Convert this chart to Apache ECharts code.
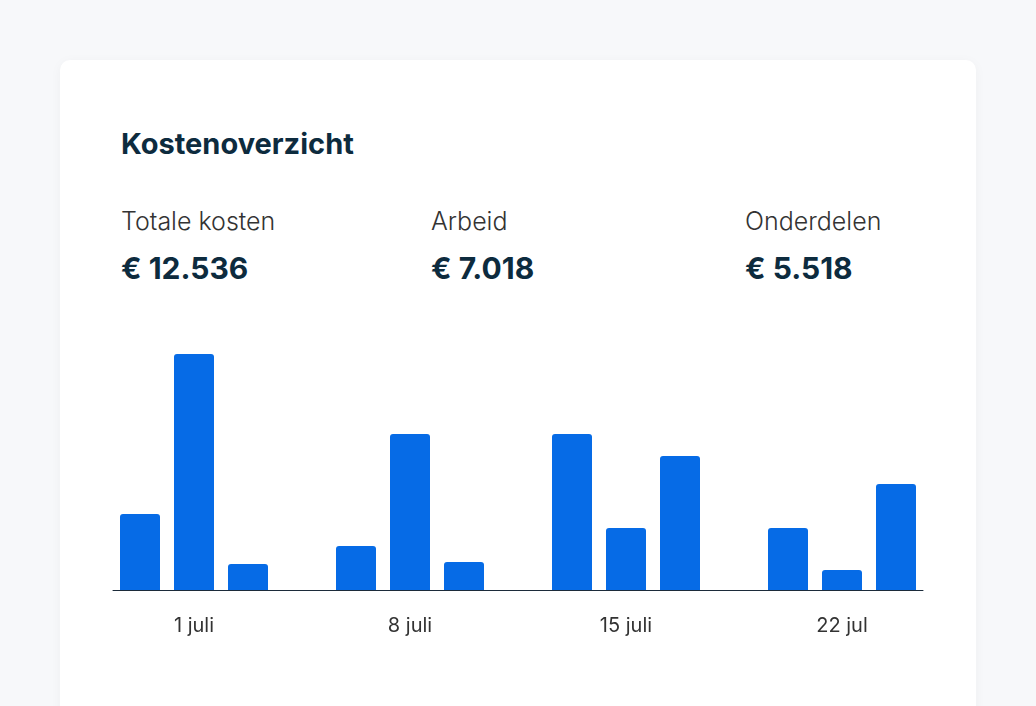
<!DOCTYPE html>
<html><head><meta charset="utf-8">
<script src="https://cdn.jsdelivr.net/npm/echarts@6/dist/echarts.min.js"></script>
<style>
body{margin:0;width:1036px;height:706px;background:#f7f8fa;font-family:Inter,sans-serif;overflow:hidden;position:relative}
.card{position:absolute;left:60px;top:60px;width:916px;height:700px;background:#fff;border-radius:10px;box-shadow:0 2px 12px rgba(0,0,0,0.04)}
.t{position:absolute;color:#0d2b3e;white-space:nowrap}
.title{font-size:29px;font-weight:700;left:121px;top:126px}
.lab{font-size:25px;font-weight:300;color:#333;top:206px}
.val{font-size:30px;font-weight:700;top:250px}
#chart{position:absolute;left:0;top:0;width:1036px;height:706px}
</style></head><body>
<div class="card"></div>
<div class="t title">Kostenoverzicht</div>
<div class="t lab" style="left:121px">Totale kosten</div>
<div class="t lab" style="left:431px">Arbeid</div>
<div class="t lab" style="left:745px">Onderdelen</div>
<div class="t val" style="left:121px">€ 12.536</div>
<div class="t val" style="left:431px">€ 7.018</div>
<div class="t val" style="left:745px">€ 5.518</div>
<div id="chart"></div>
<script>
const categories = ['', '1 juli', '', '', '', '8 juli', '', '', '', '15 juli', '', '', '', '22 jul', ''];
const costs = [76, 236, 26, null, 44, 156, 28, null, 156, 62, 134, null, 62, 20, 106];

const chart = echarts.init(document.getElementById('chart'));
chart.setOption({
  animation: false,
  grid: {left: 113, width: 810, top: 330, height: 260},
  xAxis: {
    type: 'category',
    data: categories,
    axisTick: {show: false},
    axisLine: {lineStyle: {color: '#1c2b3a', width: 1}},
    axisLabel: {interval: 0, color: '#333', fontSize: 20, fontFamily: 'Inter', margin: 26}
  },
  yAxis: {type: 'value', min: 0, max: 260, show: false, splitLine: {show: false}},
  series: [{
    type: 'bar',
    data: costs,
    barWidth: 40,
    itemStyle: {color: '#066be6', borderRadius: [3, 3, 0, 0]}
  }]
});
</script>
</body></html>
